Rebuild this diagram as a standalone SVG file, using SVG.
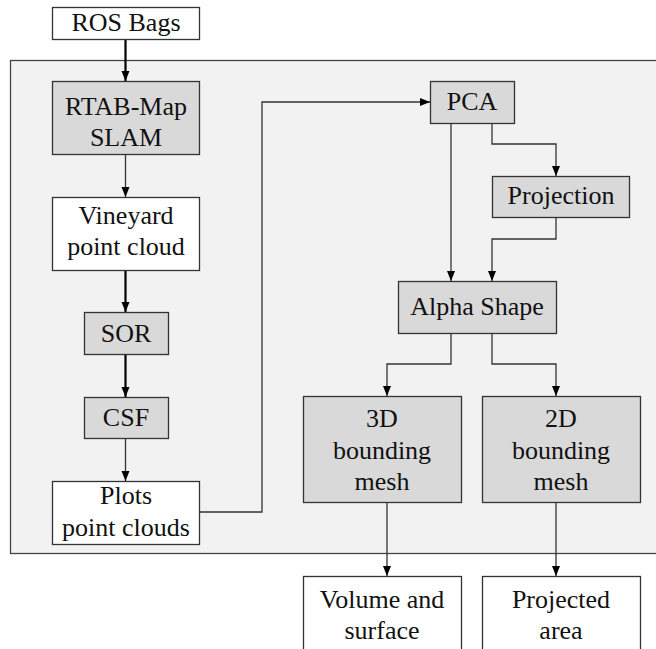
<svg xmlns="http://www.w3.org/2000/svg" width="656" height="649" viewBox="0 0 656 649" font-family="serif">
<defs>
<marker id="ah" viewBox="0 0 10 10" refX="10" refY="5" markerWidth="10" markerHeight="10" markerUnits="userSpaceOnUse" orient="auto">
<path d="M0,1 L10,5 L0,9 Z" fill="#000"/>
</marker>
</defs>
<rect x="0" y="0" width="656" height="649" fill="#fff"/>
<rect id="panel" x="10.5" y="60.5" width="660" height="493" fill="#f2f2f2" stroke="#444" stroke-width="1.3"/>
<g id="connectors" fill="none" stroke="#333" stroke-width="1.3" marker-end="url(#ah)">
<path stroke="#000" stroke-width="2.2" d="M125.5,39 V81"/>
<path d="M125.5,154 V197"/>
<path stroke="#000" stroke-width="2.2" d="M125.5,270 V312"/>
<path stroke="#000" stroke-width="2.2" d="M125.5,354 V397"/>
<path d="M125.5,438 V481"/>
<path d="M199,512 H262 V102 H430"/>
<path d="M451,123 V281"/>
<path d="M492,123 V144 H556 V176"/>
<path d="M556,217 V239 H492 V281"/>
<path d="M451,333 V364 H387 V396"/>
<path d="M492,333 V364 H556 V396"/>
<path d="M387,502 V576"/>
<path d="M556,502 V576"/>
</g>
<g id="nodes" stroke-width="1.3">
<g id="ros"><rect fill="#fff" stroke="#333" x="52.5" y="7.5" width="147" height="32"/><text font-family="serif" font-size="26" fill="#111" text-anchor="middle" x="126" y="31">ROS Bags</text></g>
<g id="rtab"><rect fill="#d9d9d9" stroke="#333" x="52.5" y="81.5" width="147" height="73"/><text font-family="serif" font-size="26" fill="#111" text-anchor="middle" x="126" y="115">RTAB-Map</text><text font-family="serif" font-size="26" fill="#111" text-anchor="middle" x="126" y="146">SLAM</text></g>
<g id="vineyard"><rect fill="#fff" stroke="#333" x="52.5" y="197.5" width="147" height="73"/><text font-family="serif" font-size="26" fill="#111" text-anchor="middle" x="126" y="224">Vineyard</text><text font-family="serif" font-size="26" fill="#111" text-anchor="middle" x="126" y="255">point cloud</text></g>
<g id="sor"><rect fill="#d9d9d9" stroke="#333" x="84.5" y="312.5" width="84" height="42"/><text font-family="serif" font-size="26" fill="#111" text-anchor="middle" x="126" y="342">SOR</text></g>
<g id="csf"><rect fill="#d9d9d9" stroke="#333" x="84.5" y="397.5" width="84" height="41"/><text font-family="serif" font-size="26" fill="#111" text-anchor="middle" x="126" y="426">CSF</text></g>
<g id="plots"><rect fill="#fff" stroke="#333" x="52.5" y="481.5" width="147" height="63"/><text font-family="serif" font-size="26" fill="#111" text-anchor="middle" x="126" y="504">Plots</text><text font-family="serif" font-size="26" fill="#111" text-anchor="middle" x="126" y="536">point clouds</text></g>
<g id="pca"><rect fill="#d9d9d9" stroke="#333" x="430.5" y="81.5" width="84" height="42"/><text font-family="serif" font-size="26" fill="#111" text-anchor="middle" x="472" y="110">PCA</text></g>
<g id="projection"><rect fill="#d9d9d9" stroke="#333" x="492.5" y="176.5" width="137" height="41"/><text font-family="serif" font-size="26" fill="#111" text-anchor="middle" x="561" y="204">Projection</text></g>
<g id="alpha"><rect fill="#d9d9d9" stroke="#333" x="398.5" y="281.5" width="158" height="52"/><text font-family="serif" font-size="26" fill="#111" text-anchor="middle" x="477" y="315">Alpha Shape</text></g>
<g id="mesh3d"><rect fill="#d9d9d9" stroke="#333" x="303.5" y="396.5" width="158" height="106"/><text font-family="serif" font-size="26" fill="#111" text-anchor="middle" x="382" y="427">3D</text><text font-family="serif" font-size="26" fill="#111" text-anchor="middle" x="382" y="459">bounding</text><text font-family="serif" font-size="26" fill="#111" text-anchor="middle" x="382" y="490">mesh</text></g>
<g id="mesh2d"><rect fill="#d9d9d9" stroke="#333" x="482.5" y="396.5" width="158" height="106"/><text font-family="serif" font-size="26" fill="#111" text-anchor="middle" x="561" y="427">2D</text><text font-family="serif" font-size="26" fill="#111" text-anchor="middle" x="561" y="459">bounding</text><text font-family="serif" font-size="26" fill="#111" text-anchor="middle" x="561" y="490">mesh</text></g>
<g id="volume"><rect fill="#fff" stroke="#333" x="303.5" y="576.5" width="158" height="90"/><text font-family="serif" font-size="26" fill="#111" text-anchor="middle" x="382" y="608">Volume and</text><text font-family="serif" font-size="26" fill="#111" text-anchor="middle" x="382" y="639">surface</text></g>
<g id="projected"><rect fill="#fff" stroke="#333" x="482.5" y="576.5" width="158" height="90"/><text font-family="serif" font-size="26" fill="#111" text-anchor="middle" x="561" y="608">Projected</text><text font-family="serif" font-size="26" fill="#111" text-anchor="middle" x="561" y="639">area</text></g>
</g>
</svg>
